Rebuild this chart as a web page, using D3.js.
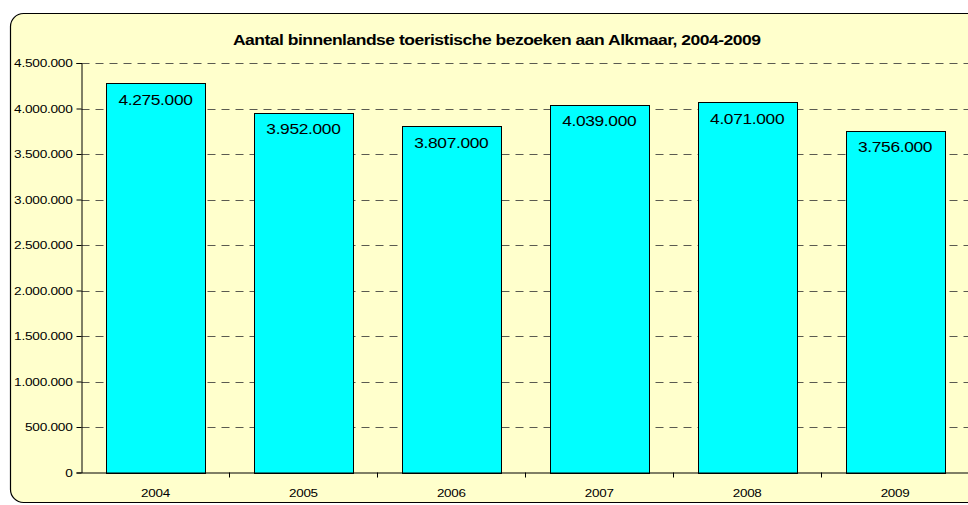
<!DOCTYPE html>
<html>
<head>
<meta charset="utf-8">
<script src="https://cdn.jsdelivr.net/npm/d3@7"></script>
<style>
  html, body { margin: 0; padding: 0; background: #ffffff; }
  svg { display: block; }
  text { font-family: "Liberation Sans", Arial, sans-serif; }
</style>
</head>
<body>
<svg id="chart" width="968" height="505"></svg>
<script>
const title = "Aantal binnenlandse toeristische bezoeken aan Alkmaar, 2004-2009";
const years = ["2004", "2005", "2006", "2007", "2008", "2009"];
const visits = [4275000, 3952000, 3807000, 4039000, 4071000, 3756000];
const yTicks = [0, 500000, 1000000, 1500000, 2000000, 2500000, 3000000, 3500000, 4000000, 4500000];

const svg = d3.select("#chart");

const nl = d3.formatLocale({ decimal: ",", thousands: ".", grouping: [3], currency: ["€", ""] });
const fmt = nl.format(",d");

// stretch glyphs horizontally around the text's anchor point (the original is widened)
function stretch(sel, factor) {
  sel.each(function () {
    const el = d3.select(this);
    const x0 = +el.attr("x") || 0;
    el.attr("x", 0).attr("transform", `translate(${x0},0) scale(${factor},1)`);
  });
}

// chart area (rounded)
svg.append("rect")
  .attr("x", 10.5).attr("y", 13.5)
  .attr("width", 1000).attr("height", 489)
  .attr("rx", 13).attr("ry", 13)
  .attr("fill", "#FFFFCC")
  .attr("stroke", "#000").attr("stroke-width", 1.2);

const plot = { left: 81.5, right: 969, top: 63, bottom: 472.5 };

const x = d3.scaleBand().domain(years).range([plot.left, plot.right]).paddingInner(1/3).paddingOuter(1/6);
const xBand = d3.scaleBand().domain(years).range([plot.left, plot.right]).padding(0);
const y = d3.scaleLinear().domain([0, 4500000]).range([plot.bottom, plot.top]);

// gridlines
svg.append("g").selectAll("line")
  .data(yTicks.filter(d => d > 0))
  .join("line")
  .attr("x1", plot.left).attr("x2", plot.right)
  .attr("y1", d => Math.round(y(d)) + 0.5).attr("y2", d => Math.round(y(d)) + 0.5)
  .attr("stroke", "#5a5a50").attr("stroke-width", 1.2)
  .attr("stroke-dasharray", "8,6");

// bars
svg.append("g").selectAll("rect")
  .data(years.map((yr, i) => ({ yr, v: visits[i] })))
  .join("rect")
  .attr("x", d => Math.round(x(d.yr)) + 0.5)
  .attr("y", d => Math.round(y(d.v)) + 0.5)
  .attr("width", Math.round(x.bandwidth()))
  .attr("height", d => Math.round(plot.bottom) - Math.round(y(d.v)))
  .attr("fill", "#00FFFF")
  .attr("stroke", "#000").attr("stroke-width", 1);

// value labels
const vl = svg.append("g").selectAll("text")
  .data(years.map((yr, i) => ({ yr, v: visits[i] })))
  .join("text")
  .attr("x", d => x(d.yr) + x.bandwidth() / 2)
  .attr("y", d => y(d.v) + 21.5)
  .attr("text-anchor", "middle")
  .attr("font-size", 15.5)
  .attr("letter-spacing", -0.3)
  .attr("fill", "#000")
  .text(d => fmt(d.v));
stretch(vl, 1.12);

// y axis
const yAxis = d3.axisLeft(y).tickValues(yTicks).tickFormat(d => fmt(d)).tickSize(5).tickPadding(4);
const gy = svg.append("g").attr("transform", `translate(${plot.left},0)`).call(yAxis);
gy.select(".domain").attr("stroke", "#000");
gy.selectAll(".tick line").attr("stroke", "#000");
gy.selectAll(".tick text").attr("font-size", 11).attr("fill", "#000")
  .attr("letter-spacing", -0.2)
  .attr("font-family", "'Liberation Sans', Arial, sans-serif");
stretch(gy.selectAll(".tick text"), 1.24);

// x axis
const xAxis = d3.axisBottom(xBand).tickSize(0).tickPadding(17);
const gx = svg.append("g").attr("transform", `translate(0,${plot.bottom})`).call(xAxis);
gx.select(".domain").attr("stroke", "#000");
gx.selectAll(".tick text").attr("font-size", 11).attr("fill", "#000")
  .attr("letter-spacing", -0.2)
  .attr("font-family", "'Liberation Sans', Arial, sans-serif");
stretch(gx.selectAll(".tick text"), 1.22);
// boundary ticks between categories
gx.append("g").selectAll("line")
  .data(years.slice(1))
  .join("line")
  .attr("x1", d => Math.round(xBand(d)) + 0.5).attr("x2", d => Math.round(xBand(d)) + 0.5)
  .attr("y1", 0).attr("y2", 5)
  .attr("stroke", "#000");

// title
const t = svg.append("text")
  .attr("x", 0).attr("y", 45.3)
  .attr("text-anchor", "middle")
  .attr("font-size", 14)
  .attr("font-weight", "bold")
  .attr("letter-spacing", -0.4)
  .attr("fill", "#000")
  .text(title);
const tLen = t.node().getComputedTextLength();
t.attr("transform", `translate(496.7,0) scale(${528 / tLen},1)`);
</script>
</body>
</html>
